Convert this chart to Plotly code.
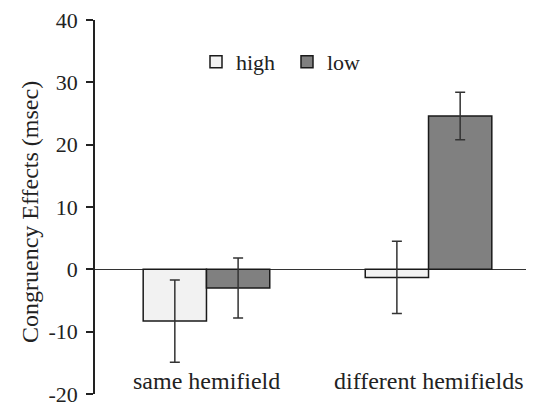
import plotly.graph_objects as go

categories = ["same hemifield", "different hemifields"]
series_names = ["high", "low"]
high_values = [-8.3, -1.3]
high_errors = [6.6, 5.8]
low_values = [-3.0, 24.6]
low_errors = [4.8, 3.8]
y_ticks = [-20, -10, 0, 10, 20, 30, 40]
y_tick_labels = ["-20", "-10", "0", "10", "20", "30", "40"]

FONT = "Liberation Serif"
TXT = "#222222"

# page body has an 8px default margin; figure drawn from (8, 8)
OFF = 8
W, H = 534 - OFF, 406 - OFF
L, T, B = 95 - OFF, 20 - OFF, 406 - 394
PW = W - L
PH = H - T - B

fig = go.Figure()
fig.add_trace(go.Bar(
    name=series_names[0], x=categories, y=high_values, legend="legend",
    marker=dict(color="#f2f2f2", line=dict(color="#1a1a1a", width=1.5)),
    error_y=dict(type="data", array=high_errors, color="#333333", thickness=1.5, width=5),
))
fig.add_trace(go.Bar(
    name=series_names[1], x=categories, y=low_values, legend="legend2",
    marker=dict(color="#808080", line=dict(color="#1a1a1a", width=1.5)),
    error_y=dict(type="data", array=low_errors, color="#333333", thickness=1.5, width=5),
))

for c in categories:
    fig.add_annotation(x=c, y=-17.9, xref="x", yref="y", text=c, showarrow=False,
                       font=dict(family=FONT, size=24, color=TXT))

fig.add_annotation(x=(30 - 95) / PW, y=(394 - 212) / PH, xref="paper", yref="paper",
                   xanchor="center", yanchor="middle",
                   text="Congruency Effects (msec)",
                   showarrow=False, textangle=-90, font=dict(family=FONT, size=24, color=TXT))

legend_common = dict(orientation="h", xanchor="left", yanchor="middle",
                     font=dict(family=FONT, size=22, color=TXT), bgcolor="rgba(0,0,0,0)",
                     itemwidth=30)

fig.update_layout(
    width=W, height=H,
    margin=dict(l=L, r=0, t=T, b=B),
    paper_bgcolor="white", plot_bgcolor="white",
    barmode="group", bargap=0.43, bargroupgap=0,
    font=dict(family=FONT, size=22, color=TXT),
    showlegend=True,
    legend=dict(x=(196 - 95) / PW, y=(394 - 62) / PH, **legend_common),
    legend2=dict(x=(287 - 95) / PW, y=(394 - 62) / PH, **legend_common),
    xaxis=dict(range=[-0.502, 1.475], showline=False, showticklabels=False, ticks="",
               showgrid=False, zeroline=False, automargin=False),
    yaxis=dict(range=[-20, 40], tickvals=y_ticks, ticktext=y_tick_labels, ticks="outside",
               ticklen=7, tickwidth=1.5, ticklabeloverflow="allow", ticklabelstandoff=4,
               tickcolor="#222", showline=True, linecolor="#222", linewidth=1.5,
               showgrid=False, zeroline=True, zerolinecolor="#333", zerolinewidth=1.2,
               tickfont=dict(family=FONT, size=22, color=TXT), automargin=False),
)

fig.write_html("out.html")
